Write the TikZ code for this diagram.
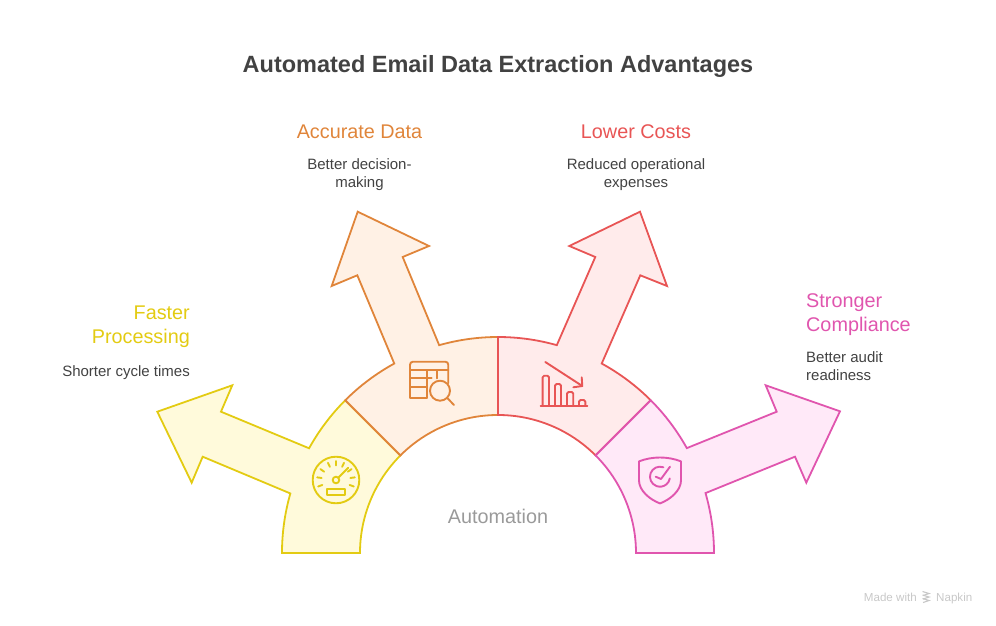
\documentclass[tikz,border=0pt]{standalone}
\usepackage{fontspec}
\setmainfont{Liberation Sans}
\usepackage{xcolor}
\usetikzlibrary{positioning}
\definecolor{inkdark}{HTML}{424242}
\definecolor{inkgrey}{HTML}{9A9A9A}
\definecolor{inkmark}{HTML}{C8C8C8}
\definecolor{fastline}{HTML}{E3CB12}
\definecolor{fastfill}{HTML}{FFFADB}
\definecolor{dataline}{HTML}{E0853A}
\definecolor{datafill}{HTML}{FFF1E5}
\definecolor{costline}{HTML}{E85555}
\definecolor{costfill}{HTML}{FFEBEB}
\definecolor{lawline}{HTML}{E055AE}
\definecolor{lawfill}{HTML}{FFE9F8}

\begin{document}
\begin{tikzpicture}[
x=1pt, y=1pt,
maintitle/.style={font=\fontsize{23.5}{29}\selectfont\bfseries, text=inkdark, inner sep=0pt},
headline/.style={font=\fontsize{19.8}{24}\selectfont, inner sep=0pt},
note/.style={font=\fontsize{15}{18.5}\selectfont, text=inkdark, inner sep=0pt},
arm/.style={line width=1.8pt, miter limit=10},
icon/.style={line width=1.9pt, line cap=round, line join=round}
]
\useasboundingbox (-498,-72) rectangle (498,553);

% arms, each one over the one before
\draw[arm, draw=fastline, fill=fastfill] (135:216) arc[start angle=135, end angle=151, radius=216pt]
  -- (-277,141.3) -- (-265.7,167.7) -- (-340.7,141.3) -- (-306.3,70.3) -- (-295.3,96.3)
  -- (164:216) arc[start angle=164, end angle=180, radius=216pt]
  -- (180:138) arc[start angle=180, end angle=135, radius=138pt] -- cycle;
\draw[arm, draw=dataline, fill=datafill] (90:216) arc[start angle=90, end angle=105.8, radius=216pt]
  -- (-95.3,296) -- (-69,307) -- (-140.3,341.3) -- (-166.3,267) -- (-140.7,277.7)
  -- (118.7:216) arc[start angle=118.7, end angle=135, radius=216pt]
  -- (135:138) arc[start angle=135, end angle=90, radius=138pt] -- cycle;
\draw[arm, draw=costline, fill=costfill] (45:216) arc[start angle=45, end angle=61.3, radius=216pt]
  -- (142.3,277.7) -- (169,267) -- (142,341.3) -- (71.3,307) -- (97.3,296)
  -- (74.2:216) arc[start angle=74.2, end angle=90, radius=216pt]
  -- (90:138) arc[start angle=90, end angle=45, radius=138pt] -- cycle;
\draw[arm, draw=lawline, fill=lawfill] (0:216) arc[start angle=0, end angle=16.1, radius=216pt]
  -- (297,96.3) -- (308.3,70.3) -- (342,141.7) -- (267.7,167.7) -- (278.7,141.3)
  -- (29.05:216) arc[start angle=29.05, end angle=45, radius=216pt]
  -- (45:138) arc[start angle=45, end angle=0, radius=138pt] -- cycle;

% gauge
\begin{scope}[shift={(-162,73)}, icon, draw=fastline]
\draw (0,0) circle (23.3);
\draw (0,0) circle (3.3);
\draw (2.4,2.4) -- (12.3,12.3);
\draw (-9.3,-15.3) rectangle (9.3,-8.7);
\foreach \a in {-20,8,35,65,90,115,145,172,200}
  \draw (\a:14.5) -- (\a:19);
\end{scope}

% table with lens
\begin{scope}[shift={(-69,167)}, icon, draw=dataline]
\draw (-2.3,-12) -- (-19,-12) [rounded corners=3pt] -- (-19,24.3) -- (19.3,24.3) -- (19.3,3);
\draw (-19,16) -- (19.3,16);
\draw (-19,7.7) -- (2.7,7.7);
\draw (-19,-.7) -- (-2.3,-.7);
\draw (-2.3,16) -- (-2.3,-12);
\draw (7.7,16) -- (7.7,7.7);
\draw (11,-4.7) circle (10);
\draw (18,-11.7) -- (25,-19);
\end{scope}

% falling bars
\begin{scope}[shift={(64,147)}, icon, draw=costline]
\draw (-21.3,0) -- (25.3,0);
\draw (-19.3,0) [rounded corners=1.5pt] -- (-19.3,30.3) -- (-13,30.3) -- (-13,0);
\draw (-7,0) [rounded corners=1.5pt] -- (-7,22) -- (-1,22) -- (-1,0);
\draw (5,0) [rounded corners=1.5pt] -- (5,14) -- (11.3,14) -- (11.3,0);
\draw (17,0) [rounded corners=1.5pt] -- (17,6) -- (23.3,6) -- (23.3,0);
\draw (-16.7,44) -- (20.3,20);
\draw (19.7,28.7) -- (20.3,20) -- (11.3,18.7);
\end{scope}

% shield
\begin{scope}[shift={(162,76.3)}, icon, draw=lawline]
\draw (-21,15.3) .. controls (-8,20.5) and (8,20.5) .. (21,15.3)
  -- (21,-3.7) .. controls (21,-14) and (10,-23) .. (0,-26.7)
  .. controls (-10,-23) and (-21,-14) .. (-21,-3.7) -- cycle;
\draw (3.4,9.4) arc[start angle=70, end angle=350, radius=10pt];
\draw (-4.3,0) -- (1,-2.3) -- (10,10);
\end{scope}

% labels
\node[maintitle] (title) at (0,487) {Automated Email Data Extraction Advantages};
\node[headline, text=dataline] (accurate) at (-138.5,421) {Accurate Data};
\node[note, align=center, below=19pt of accurate] (accuratenote) {Better decision-\\making};
\node[headline, text=costline] (lower) at (138,421) {Lower Costs};
\node[note, align=center, below=19pt of lower] (lowernote) {Reduced operational\\expenses};
\node[headline, text=fastline, align=right, anchor=north east] (faster) at (-308,247) {Faster\\Processing};
\node[note, anchor=north east] (fasternote) at (-308,188) {Shorter cycle times};
\node[headline, text=lawline, align=left, anchor=north west] (stronger) at (308,259.5) {Stronger\\Compliance};
\node[note, align=left, anchor=north west] (strongernote) at (308,202) {Better audit\\readiness};
\node[headline, text=inkgrey] (automation) at (0,37) {Automation};

% footer mark
\node[font=\fontsize{11.6}{13}\selectfont, text=inkmark, inner sep=0pt, anchor=base east] (made) at (419,-48) {Made with};
\node[font=\fontsize{11.6}{13}\selectfont, text=inkmark, inner sep=0pt, anchor=base west] (napkin) at (438,-48) {Napkin};
\foreach \d in {0,3.5,7}
  \draw[inkmark, line width=1.1pt] (424.5,-38.5-\d) -- (431,-40.5-\d) -- (425,-42.5-\d);
\end{tikzpicture}
\end{document}
